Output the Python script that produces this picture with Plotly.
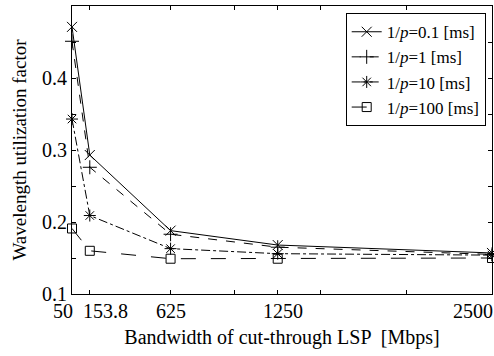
import plotly.graph_objects as go

x_vals = [50, 153.8, 625, 1250, 2500]
s_01 = [0.471, 0.293, 0.188, 0.168, 0.157]
s_1 = [0.451, 0.276, 0.183, 0.165, 0.155]
s_10 = [0.343, 0.209, 0.163, 0.156, 0.154]
s_100 = [0.191, 0.160, 0.149, 0.149, 0.150]
names = ["1/<i>p</i>=0.1 [ms]", "1/<i>p</i>=1 [ms]", "1/<i>p</i>=10 [ms]", "1/<i>p</i>=100 [ms]"]

xtickvals = [50, 153.8, 625, 1000, 1250, 1500, 2000, 2500]
xlabel_vals = [50, 153.8, 625, 1250, 2500]
xlabel_text = ["50", "153.8", "625", "1250", "2500"]
ytickvals = [0.1, 0.15, 0.2, 0.25, 0.3, 0.35, 0.4, 0.45, 0.5]
yticktext = ["0.1", "", "0.2", "", "0.3", "", "0.4", "", "0.5"]

FONT = "Times New Roman, Liberation Serif, serif"
series = [s_01, s_1, s_10, s_100]
dashes = ["solid", "dash", "dashdot", "longdash"]
symbols = ["x-thin-open", "cross-thin-open", "asterisk-open", "square-open"]
sizes = [10, 10, 10, 9]

fig = go.Figure()
for ys, nm, d, sym, sz in zip(series, names, dashes, symbols, sizes):
    fig.add_trace(go.Scatter(
        x=x_vals, y=ys, name=nm, mode="lines+markers",
        line=dict(color="black", width=1, dash=d),
        marker=dict(symbol=sym, size=sz, color="black",
                    line=dict(color="black", width=1)),
        cliponaxis=False,
    ))

axis_common = dict(showline=True, linecolor="black", linewidth=1, mirror="ticks",
                   ticks="inside", ticklen=4, tickcolor="black", showgrid=False,
                   zeroline=False, automargin=False,
                   tickfont=dict(family=FONT, size=20, color="black"))

# x tick labels placed via the x scale (nudged to avoid overlap like the original)
shifts = [-9, 16, 0, 5, 2]
anchors = ["center", "center", "center", "center", "right"]
annotations = []
for xv, tx, sh, an in zip(xlabel_vals, xlabel_text, shifts, anchors):
    annotations.append(dict(x=xv, y=0, xref="x", yref="paper", text=tx, showarrow=False,
                            xanchor=an, yanchor="top", xshift=sh, yshift=-5, borderpad=0,
                            font=dict(family=FONT, size=20, color="black")))

fig.update_layout(
    width=494, height=356,
    margin=dict(l=72, r=2, t=6, b=62),
    paper_bgcolor="white", plot_bgcolor="white",
    font=dict(family=FONT, size=20, color="black"),
    xaxis=dict(range=[50, 2500], tickmode="array", tickvals=xtickvals, showticklabels=False,
               title=dict(text="Bandwidth of cut-through LSP  [Mbps]", standoff=35,
                          font=dict(family=FONT, size=20)), **axis_common),
    yaxis=dict(range=[0.1, 0.5], tickmode="array", tickvals=ytickvals, ticktext=yticktext,
               title=dict(text="Wavelength utilization factor", standoff=10,
                          font=dict(family=FONT, size=19)), **axis_common),
    legend=dict(x=0.985, y=0.975, xanchor="right", yanchor="top",
                bgcolor="white", bordercolor="black", borderwidth=1,
                font=dict(family=FONT, size=17), tracegroupgap=0,
                itemwidth=30),
    annotations=annotations,
    showlegend=True,
)

fig.write_html("out.html")
